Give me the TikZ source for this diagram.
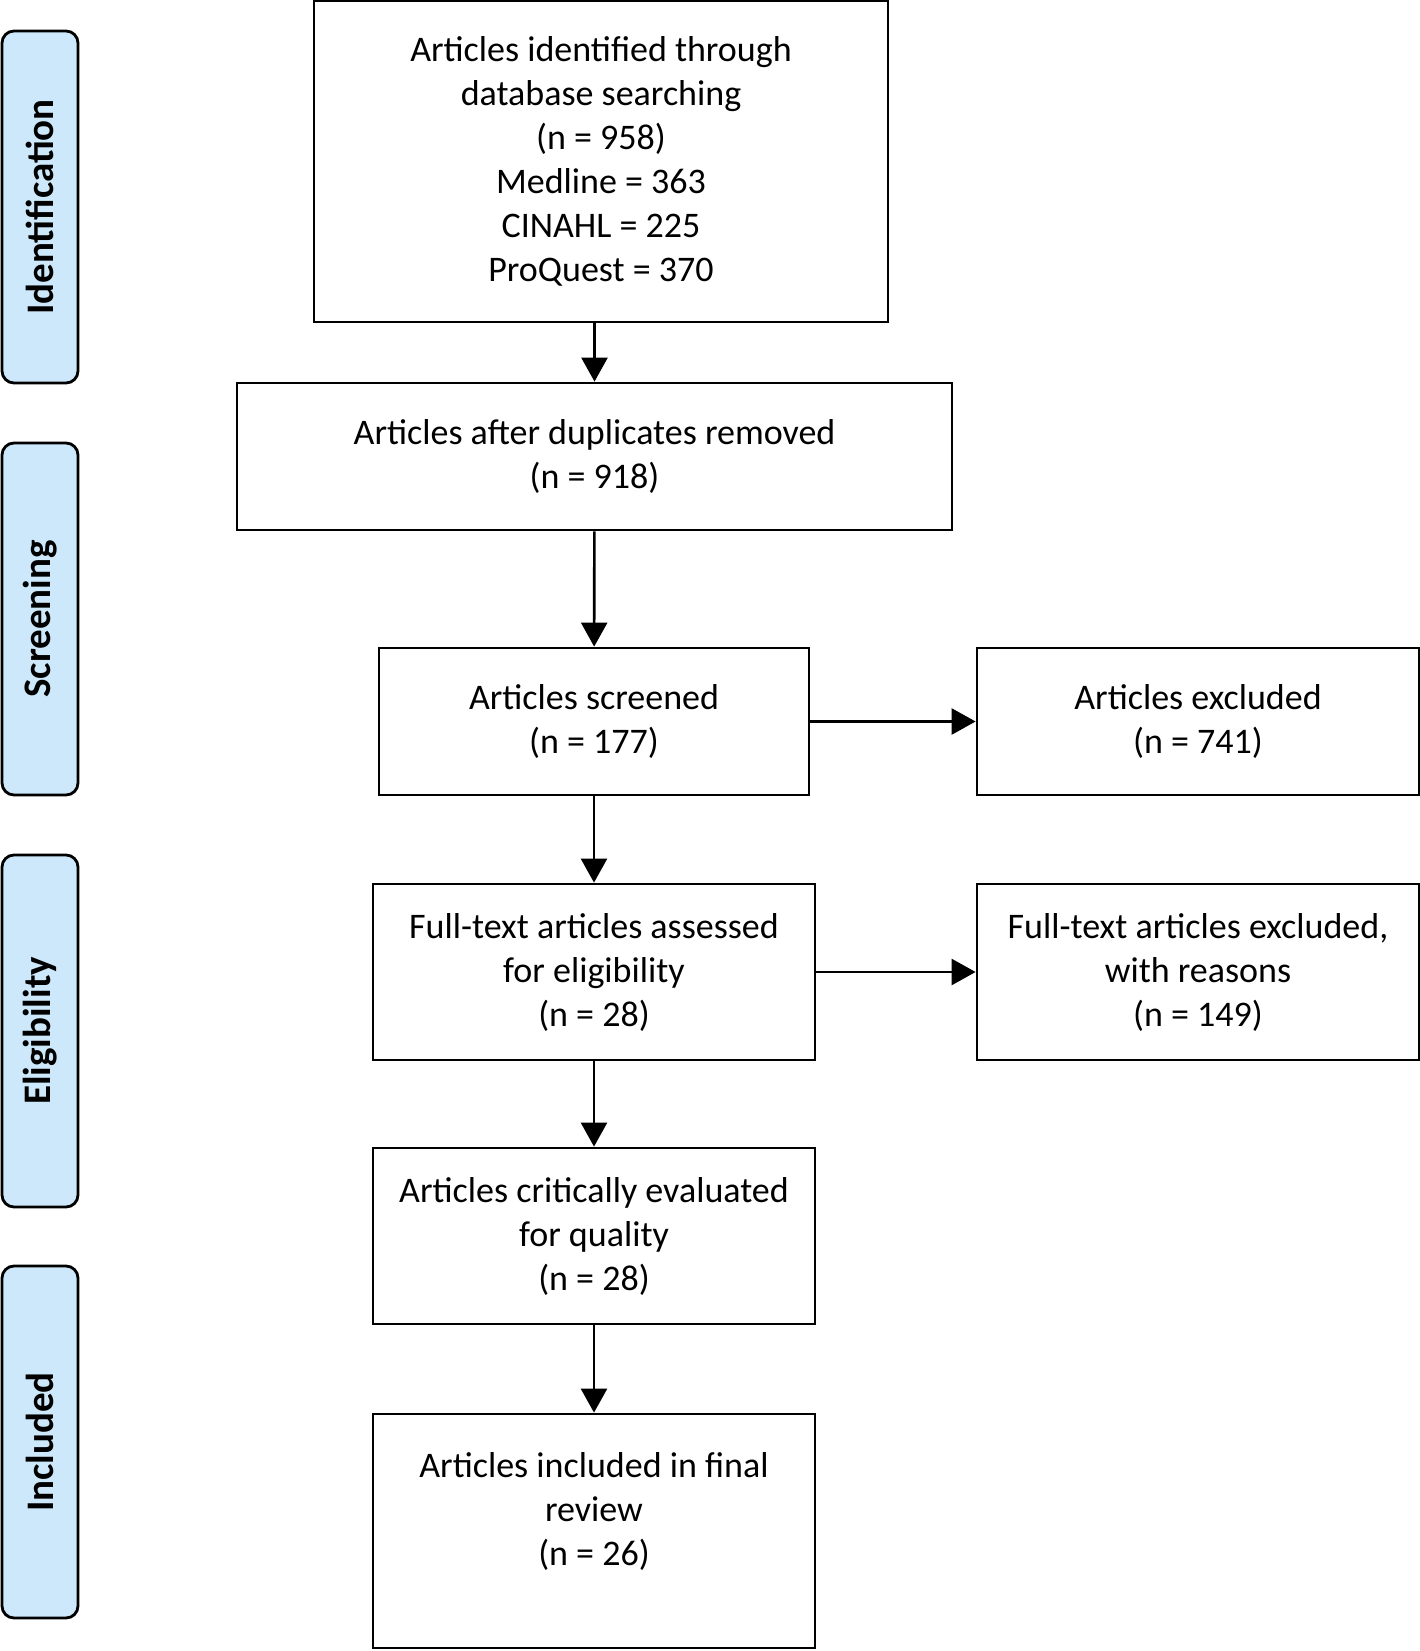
\documentclass[tikz,border=0pt]{standalone}
\usepackage{fontspec}
\setmainfont{Carlito}
\usetikzlibrary{arrows.meta, positioning}

\definecolor{stageblue}{RGB}{204,232,250}

\tikzset{
  flowbox/.style={draw, line width=2.8pt, align=center, font=\fontsize{36}{44}\selectfont, inner sep=0pt},
  stagebar/.style={draw, line width=2.8pt, fill=stageblue, rounded corners=12pt,
    minimum width=76pt, minimum height=352pt, inner sep=0pt},
  stagetext/.style={rotate=90, font=\fontsize{39}{44}\selectfont\bfseries},
  flowarrow/.style={line width=2.6pt, -{Triangle[length=24pt, width=26pt]}}
}

\begin{document}
\begin{tikzpicture}[x=1pt, y=-1pt]
  \useasboundingbox (0,0) rectangle (1420,1651);

  % Stage bars on the left
  \node[stagebar] (idbar) at (40,207) {};
  \node[stagetext] at (idbar) {Identification};
  \node[stagebar] (scbar) at (40,619) {};
  \node[stagetext] at (scbar) {Screening};
  \node[stagebar] (elbar) at (40,1031) {};
  \node[stagetext] at (elbar) {Eligibility};
  \node[stagebar] (inbar) at (40,1442) {};
  \node[stagetext] at (inbar) {Included};

  % Main flow boxes
  \node[flowbox, minimum width=574pt, minimum height=321pt] (ident) at (601,161.5)
    {Articles identified through\\database searching\\(n = 958)\\Medline = 363\\CINAHL = 225\\ProQuest = 370};
  \node[flowbox, minimum width=715pt, minimum height=147pt] (dedup) at (594.5,456.5)
    {Articles after duplicates removed\\(n = 918)};
  \node[flowbox, minimum width=430pt, minimum height=147pt] (screen) at (594,721.5)
    {Articles screened\\(n = 177)};
  \node[flowbox, minimum width=442pt, minimum height=176pt] (fulltext) at (594,972)
    {Full-text articles assessed\\for eligibility\\(n = 28)};
  \node[flowbox, minimum width=442pt, minimum height=176pt] (quality) at (594,1236)
    {Articles critically evaluated\\for quality\\(n = 28)};
  \node[flowbox, minimum width=442pt, minimum height=234pt] (final) at (594,1531)
    {Articles included in final\\review\\(n = 26)\\\mbox{}};

  % Exclusion boxes
  \node[flowbox, minimum width=442pt, minimum height=147pt] (excl) at (1198,721.5)
    {Articles excluded\\(n = 741)};
  \node[flowbox, minimum width=442pt, minimum height=176pt] (exclft) at (1198,972)
    {Full-text articles excluded,\\with reasons\\(n = 149)};

  % Connectors
  \draw[flowarrow] (ident.south -| dedup) -- (dedup);
  \draw[flowarrow] (dedup) -- (screen);
  \draw[flowarrow] (screen) -- (fulltext);
  \draw[flowarrow] (fulltext) -- (quality);
  \draw[flowarrow] (quality) -- (final);
  \draw[flowarrow] (screen) -- (excl);
  \draw[flowarrow] (fulltext) -- (exclft);
\end{tikzpicture}
\end{document}
